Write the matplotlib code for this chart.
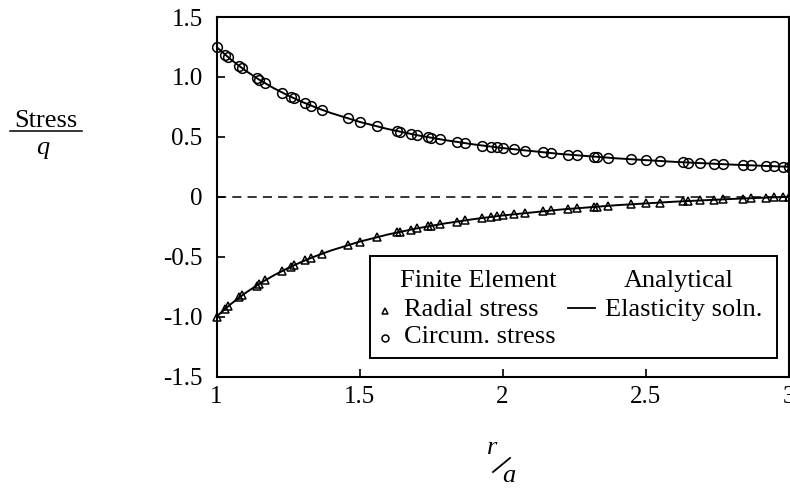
import matplotlib
matplotlib.use("Agg")
import matplotlib.pyplot as plt
from matplotlib.lines import Line2D
from matplotlib.patches import Rectangle

plt.rcParams["font.family"] = "Liberation Serif"

# finite element nodal radii (r/a) and nodal stresses / q
fe_r = [1.00, 1.03, 1.04, 1.08, 1.09, 1.14, 1.15, 1.17, 1.23, 1.26, 1.27, 1.31,
        1.33, 1.37, 1.46, 1.50, 1.56, 1.63, 1.64, 1.68, 1.70, 1.74, 1.75, 1.78,
        1.84, 1.87, 1.93, 1.96, 1.98, 2.00, 2.04, 2.08, 2.14, 2.17, 2.23, 2.26,
        2.32, 2.33, 2.37, 2.45, 2.50, 2.55, 2.63, 2.65, 2.69, 2.74, 2.77, 2.84,
        2.87, 2.92, 2.95, 2.98, 3.00]
fe_circ = [1.250, 1.185, 1.165, 1.090, 1.072, 0.991, 0.976, 0.947, 0.869, 0.834,
           0.823, 0.781, 0.761, 0.724, 0.653, 0.625, 0.587, 0.548, 0.543, 0.524,
           0.514, 0.497, 0.492, 0.480, 0.457, 0.447, 0.427, 0.418, 0.412, 0.406,
           0.395, 0.385, 0.371, 0.364, 0.351, 0.345, 0.334, 0.332, 0.325, 0.312,
           0.305, 0.298, 0.288, 0.285, 0.281, 0.275, 0.272, 0.265, 0.262, 0.257,
           0.254, 0.252, 0.250]
fe_rad = [-1.000, -0.935, -0.915, -0.840, -0.822, -0.741, -0.726, -0.697, -0.619,
          -0.584, -0.573, -0.531, -0.511, -0.474, -0.403, -0.375, -0.337, -0.298,
          -0.293, -0.274, -0.264, -0.247, -0.242, -0.230, -0.207, -0.197, -0.177,
          -0.168, -0.162, -0.156, -0.145, -0.135, -0.121, -0.114, -0.101, -0.095,
          -0.084, -0.082, -0.075, -0.062, -0.055, -0.048, -0.038, -0.035, -0.031,
          -0.025, -0.022, -0.015, -0.012, -0.007, -0.004, -0.002, 0.000]

# elasticity (Lame) solution sampled along the wall
an_r = [1.00, 1.05, 1.10, 1.15, 1.20, 1.25, 1.30, 1.35, 1.40, 1.50, 1.60, 1.70,
        1.80, 1.90, 2.00, 2.20, 2.40, 2.60, 2.80, 3.00]
an_circ = [1.2500, 1.1454, 1.0548, 0.9757, 0.9063, 0.8450, 0.7907, 0.7423, 0.6990,
           0.6250, 0.5645, 0.5143, 0.4722, 0.4366, 0.4063, 0.3574, 0.3203, 0.2914,
           0.2685, 0.2500]
an_rad = [-1.0000, -0.8954, -0.8048, -0.7257, -0.6563, -0.5950, -0.5407, -0.4923,
          -0.4490, -0.3750, -0.3145, -0.2643, -0.2222, -0.1866, -0.1563, -0.1074,
          -0.0703, -0.0414, -0.0185, 0.0000]

x_ticks = [1, 1.5, 2, 2.5, 3]
x_tick_labels = ["1", "1.5", "2", "2.5", "3"]
y_ticks = [-1.5, -1.0, -0.5, 0, 0.5, 1.0, 1.5]
y_tick_labels = ["-1.5", "-1.0", "-0.5", "0", "0.5", "1.0", "1.5"]

W, H = 790, 488
fig = plt.figure(figsize=(W / 100, H / 100), dpi=100)
ax = fig.add_axes([216.5 / W, 1 - 376.5 / H, 572 / W, 359.5 / H])


def px(x, y):
    # pixel position -> figure fraction
    return x / W, 1 - y / H


ax.axhline(0, color="black", lw=1.1, dashes=(6, 4))
ax.plot(an_r, an_circ, color="black", lw=1.4, zorder=2)
ax.plot(an_r, an_rad, color="black", lw=1.4, zorder=2)
ax.plot(fe_r, fe_circ, ls="none", marker="o", ms=7, mfc="none", mec="black",
        mew=1.1, zorder=3, clip_on=False)
ax.plot(fe_r, fe_rad, ls="none", marker="^", ms=6, mfc="none", mec="black",
        mew=1.1, zorder=3, clip_on=False)

ax.set_xlim(1, 3)
ax.set_ylim(-1.5, 1.5)
ax.set_xticks(x_ticks)
ax.set_xticklabels(x_tick_labels)
ax.set_yticks(y_ticks)
ax.set_yticklabels(y_tick_labels)
ax.tick_params(direction="in", length=6, width=1.2, labelsize=18)
ax.tick_params(axis="y", pad=10)
ax.tick_params(axis="x", pad=7)
for s in ax.spines.values():
    s.set_linewidth(1.5)

# legend box drawn by hand: two captioned columns
box = Rectangle((0.268, 0.0515), 0.712, 0.2835, transform=ax.transAxes,
                facecolor="white", edgecolor="black", lw=1.4, zorder=5)
ax.add_patch(box)
fs = 19
fig.text(*px(478, 287), "Finite Element", fontsize=fs, ha="center", va="baseline", zorder=6)
fig.text(*px(679, 287), "Analytical", fontsize=fs, ha="center", va="baseline", zorder=6)
fig.text(*px(404, 316), "Radial stress", fontsize=fs, ha="left", va="baseline", zorder=6)
fig.text(*px(404, 343), "Circum. stress", fontsize=fs, ha="left", va="baseline", zorder=6)
fig.text(*px(605, 316), "Elasticity soln.", fontsize=fs, ha="left", va="baseline", zorder=6)
fig.add_artist(Line2D([385 / W], [1 - 311 / H], marker="^", ms=5, mfc="none",
                      mec="black", mew=1.1, ls="none"))
fig.add_artist(Line2D([385 / W], [1 - 338 / H], marker="o", ms=5, mfc="none",
                      mec="black", mew=1.1, ls="none"))
fig.add_artist(Line2D([568 / W, 595 / W], [1 - 308 / H, 1 - 308 / H],
                      color="black", lw=1.3))

# y label as a fraction: Stress over q
fig.text(*px(46, 127), "Stress", fontsize=19, ha="center", va="baseline")
fig.add_artist(Line2D([10 / W, 82 / W], [1 - 131 / H, 1 - 131 / H], color="black", lw=1.1))
fig.text(*px(43, 148), "q", fontsize=19, style="italic", ha="center", va="center")

# x label: r / a
fig.text(*px(492, 448), "r", fontsize=19, style="italic", ha="center", va="center")
fig.add_artist(Line2D([493 / W, 510 / W], [1 - 472 / H, 1 - 458 / H], color="black", lw=1.3))
fig.text(*px(509, 476), "a", fontsize=19, style="italic", ha="center", va="center")

fig.savefig("out.png", dpi=100)
